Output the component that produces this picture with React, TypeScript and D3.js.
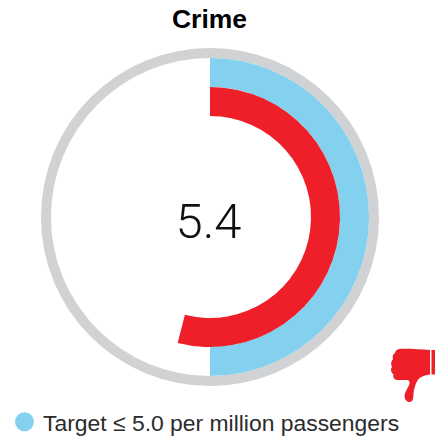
import React from "react";
import * as d3 from "d3";

const title = "Crime";
const actualValue = 5.4;
const targetValue = 5.0;
const dialMaximum = 10;
const legendLabel = "Target ≤ 5.0 per million passengers";

const WIDTH = 435;
const HEIGHT = 436;
const CX = 210;
const CY = 217;

const TRACK_GREY = "#d1d2d4";
const TARGET_BLUE = "#83d0ef";
const ALERT_RED = "#ee1f29";

const sweep = d3.scaleLinear().domain([0, dialMaximum]).range([0, 2 * Math.PI]);

const arcPath = (inner: number, outer: number, value: number) =>
  d3.arc()({
    innerRadius: inner,
    outerRadius: outer,
    startAngle: 0,
    endAngle: sweep(value),
  } as d3.DefaultArcObject) as string;

// Thumbs-down glyph: fist with fingers on the left, thumb pointing down, cuff on the right.
const THUMB_FIST =
  "M399 349 C408 348.5 420 349.5 430 350 L430 374.5 C426 375 422 376 419 378.5 " +
  "C416 382 415 386 414 390 C413 394 414 399 412 401 C409 403.5 405 401 404.5 397 " +
  "C404.5 392 408 388 409.5 384 C410 382 409 380 407 380 L397 380 C394 379.5 392.5 377 393.5 374.5 " +
  "C390.5 372 390.5 369 392 367 C390.5 364 391 361 393 359 C392 356 393 354 395 353 " +
  "C395 351 397 349.5 399 349 Z";

export default function App() {
  return (
    <svg
      width={WIDTH}
      height={HEIGHT}
      viewBox={`0 0 ${WIDTH} ${HEIGHT}`}
      style={{ position: "absolute", left: 0, top: 0, background: "#fff" }}
    >
      <text
        x={209.5}
        y={28}
        textAnchor="middle"
        fontFamily="'Liberation Sans', Arial, sans-serif"
        fontWeight={700}
        fontSize={26.5}
        fill="#000"
      >
        {title}
      </text>

      <g transform={`translate(${CX},${CY})`}>
        <path d={arcPath(159, 169, dialMaximum)} fill={TRACK_GREY} />
        <path d={arcPath(130, 159, targetValue)} fill={TARGET_BLUE} />
        <path d={arcPath(101, 130, actualValue)} fill={ALERT_RED} />
      </g>

      <text
        x={208.5}
        y={238}
        textAnchor="middle"
        fontFamily="Roboto, 'Liberation Sans', sans-serif"
        fontWeight={300}
        fontSize={49}
        fill="#111"
      >
        {actualValue.toFixed(1)}
      </text>

      <path d={THUMB_FIST} fill={ALERT_RED} />
      <rect x={431.5} y={350} width={3.5} height={24.5} fill={ALERT_RED} />

      <circle cx={24.5} cy={421.7} r={9.5} fill={TARGET_BLUE} />
      <text
        x={43}
        y={431}
        fontFamily="'Liberation Sans', Arial, sans-serif"
        fontSize={22.9}
        fill="#2b2b2b"
      >
        {legendLabel}
      </text>
    </svg>
  );
}
